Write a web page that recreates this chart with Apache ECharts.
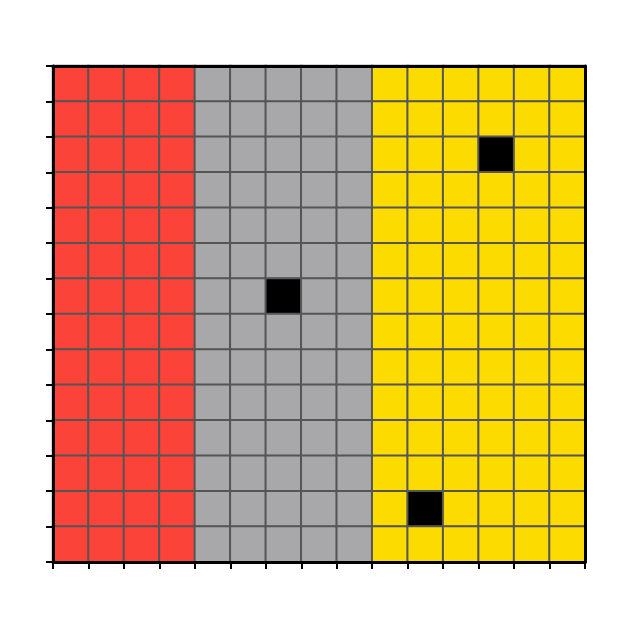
<!DOCTYPE html>
<html>
<head>
<meta charset="utf-8">
<script src="https://cdn.jsdelivr.net/npm/echarts@6/dist/echarts.min.js"></script>
<style>html,body{margin:0;padding:0;background:#fff;}#c{width:629px;height:629px;}</style>
</head>
<body>
<div id="c"></div>
<script>
const columns = ['0','1','2','3','4','5','6','7','8','9','10','11','12','13','14'];
const rows = ['0','1','2','3','4','5','6','7','8','9','10','11','12','13'];
// class per column: 0 = red, 1 = gray, 2 = yellow
const columnClass = [0,0,0,0,1,1,1,1,1,2,2,2,2,2,2];
// black cells as [column, row-from-top]
const blackCells = [[6,6],[12,2],[10,12]];
const classColors = ['#fc433a', '#a8a7a9', '#fcdb00', '#000000'];

const data = [];
for (let c = 0; c < columns.length; c++) {
  for (let r = 0; r < rows.length; r++) {
    let v = columnClass[c];
    if (blackCells.some(b => b[0] === c && b[1] === r)) v = 3;
    data.push([c, r, v]);
  }
}

const chart = echarts.init(document.getElementById('c'));
chart.setOption({
  animation: false,
  grid: {left: 53, top: 66, width: 532, height: 496},
  xAxis: [
    {type: 'category', data: columns, position: 'bottom', z: 10,
     axisLine: {show: true, lineStyle: {color: '#000', width: 3}},
     axisTick: {show: true, length: 7, lineStyle: {color: '#000', width: 2}},
     axisLabel: {show: false}, splitLine: {show: false}},
    {type: 'category', data: columns, position: 'top', z: 10,
     axisLine: {show: true, lineStyle: {color: '#000', width: 3}},
     axisTick: {show: false}, axisLabel: {show: false}, splitLine: {show: false}}
  ],
  yAxis: [
    {type: 'category', data: rows, inverse: true, position: 'left', z: 10,
     axisLine: {show: true, lineStyle: {color: '#000', width: 3}},
     axisTick: {show: true, length: 7, lineStyle: {color: '#000', width: 2}},
     axisLabel: {show: false}, splitLine: {show: false}},
    {type: 'category', data: rows, inverse: true, position: 'right', z: 10,
     axisLine: {show: true, lineStyle: {color: '#000', width: 3}},
     axisTick: {show: false}, axisLabel: {show: false}, splitLine: {show: false}}
  ],
  visualMap: {
    show: false, type: 'piecewise', dimension: 2,
    pieces: classColors.map((col, i) => ({value: i, color: col}))
  },
  series: [{
    type: 'heatmap',
    data: data,
    itemStyle: {borderColor: '#555555', borderWidth: 2},
    emphasis: {disabled: true}
  }]
});
</script>
</body>
</html>
